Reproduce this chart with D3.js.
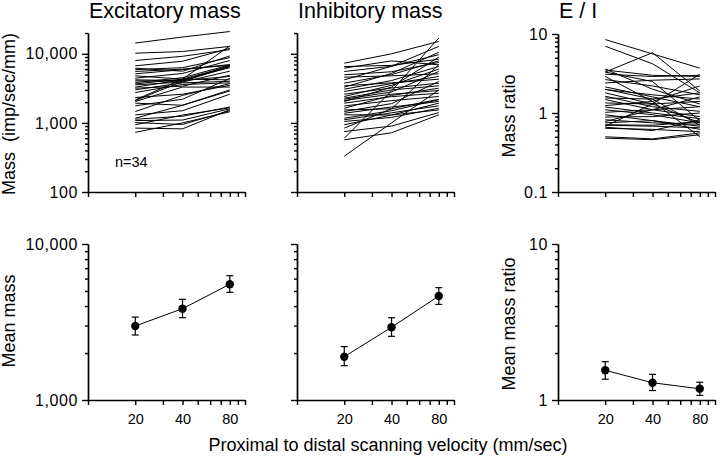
<!DOCTYPE html>
<html>
<head>
<meta charset="utf-8">
<script src="https://cdn.jsdelivr.net/npm/d3@7"></script>
<style>
  html, body { margin: 0; padding: 0; background: #fff; }
  svg { display: block; font-family: "Liberation Sans", Arial, Helvetica, sans-serif; }
  .ax path, .ax line { stroke: #000; stroke-width: 1.4; }
  .ax text { fill: #000; }
</style>
</head>
<body>
<svg id="chart" width="720" height="459"></svg>
<script>
// ---------------- DATA ----------------
const velocities = [20, 40, 80];
const xTickLabels = ["20", "40", "80"];

const titles = ["Excitatory mass", "Inhibitory mass", "E / I"];
const massTickValues = [100, 1000, 10000];
const massTickLabels = ["100", "1,000", "10,000"];
const ratioTickValues = [0.1, 1, 10];
const ratioTickLabels = ["0.1", "1", "10"];
const meanMassTickValues = [1000, 10000];
const meanMassTickLabels = ["1,000", "10,000"];
const meanRatioTickValues = [1, 10];
const meanRatioTickLabels = ["1", "10"];

// individual cells: values at 20, 40, 80 mm/sec (n = 34)
const excitatory = [
  [14300, 17500, 21000], [10200, 10800, 12800], [8000, 9200, 11500], [6700, 7800, 12000],
  [6200, 5600, 9300], [5900, 6300, 8800], [5550, 6000, 6800], [5130, 5900, 7000],
  [4800, 4300, 6600], [4440, 5200, 8000], [4200, 4100, 4700], [4060, 4000, 6500],
  [3840, 4500, 6900], [3670, 4300, 4200], [3550, 3900, 5600], [3290, 4200, 6300],
  [3180, 3400, 4900], [3010, 3800, 4000], [2750, 3600, 3800], [2150, 4300, 13000],
  [2330, 2600, 3500], [2100, 4000, 6800], [2040, 3300, 3300], [1930, 1800, 2900],
  [1770, 2200, 4400], [1460, 2500, 3700], [1310, 1500, 2600], [1170, 1800, 3000],
  [1130, 1250, 1700], [1080, 1100, 1600], [1010, 950, 1500], [940, 1300, 1650],
  [840, 820, 1550], [730, 1000, 1450]
];
const inhibitory = [
  [7320, 10000, 15100], [6550, 6800, 8370], [6200, 7900, 6930], [5550, 6600, 12800],
  [4960, 5500, 7490], [4590, 4800, 5130], [4200, 6600, 9700], [3760, 5000, 7900],
  [3440, 3800, 4290], [3290, 5200, 10500], [3080, 4100, 6550], [2850, 3700, 4690],
  [2600, 3200, 3760], [2410, 3500, 6000], [2280, 3000, 3440], [2200, 2800, 5550],
  [2110, 2600, 2940], [2040, 3300, 8950], [1930, 2400, 2690], [1760, 2100, 2410],
  [1630, 2500, 3180], [1540, 1600, 2200], [1460, 1900, 3970], [1380, 1700, 2040],
  [1310, 1300, 1930], [1170, 1500, 2160], [1110, 1400, 1770], [1050, 1200, 1630],
  [940, 1300, 1540], [840, 1600, 6930], [750, 900, 1410], [600, 2900, 16900],
  [570, 720, 1310], [330, 1000, 3000]
];
const ratio = [
  [8.5, 5.6, 3.7], [7.0, 4.2, 1.8], [3.3, 5.8, 1.9], [3.5, 3.0, 2.9],
  [3.3, 2.5, 0.8], [3.1, 2.9, 3.0], [2.9, 1.4, 0.5], [2.65, 2.2, 1.7],
  [2.4, 2.6, 2.7], [2.14, 1.6, 1.2], [1.98, 1.7, 1.5], [1.8, 1.3, 0.75],
  [1.63, 1.2, 1.05], [1.55, 1.5, 1.8], [1.48, 1.1, 0.9], [1.34, 1.3, 1.4],
  [1.24, 1.4, 2.2], [1.19, 1.0, 0.85], [1.10, 0.95, 0.75], [1.02, 1.1, 1.2],
  [0.95, 0.8, 0.68], [0.89, 0.9, 1.0], [0.82, 0.75, 0.72], [0.78, 1.1, 1.6],
  [0.75, 0.8, 0.62], [0.71, 0.7, 0.78], [0.68, 1.3, 3.1], [0.64, 0.62, 0.58],
  [0.7, 0.68, 0.65], [0.66, 0.6, 0.82], [0.50, 0.47, 0.56], [0.48, 0.46, 0.53],
  [3.6, 2.0, 1.3], [2.0, 1.5, 0.7]
];

// means with error bars
const meanExc = [2980, 3850, 5520];
const excLow  = [2610, 3370, 4900];
const excHigh = [3400, 4420, 6260];
const meanInh = [1895, 2925, 4640];
const inhLow  = [1660, 2560, 4100];
const inhHigh = [2200, 3370, 5250];
const meanRatio = [1.55, 1.29, 1.18];
const ratioLow  = [1.36, 1.15, 1.07];
const ratioHigh = [1.76, 1.46, 1.30];

// ---------------- DRAW ----------------
const svg = d3.select("#chart");
svg.append("rect").attr("width", 720).attr("height", 459).attr("fill", "#fff");

const colX = [88, 297, 558];
const xWidth = 157;

function drawAxes(g, x, y, majors, labels, showYLabels, showXLabels) {
  const lab = new Map(majors.map((v, i) => [v, labels[i]]));
  const yr = y.range();
  const x0 = x.range()[0];
  // minor y ticks
  g.append("g").attr("class", "ax").attr("transform", `translate(${x0},0)`)
    .call(d3.axisLeft(y).tickValues(y.ticks().filter(v => !majors.includes(v)))
      .tickSize(3).tickSizeOuter(0).tickFormat(""));
  // major y ticks
  const ya = g.append("g").attr("class", "ax").attr("transform", `translate(${x0},0)`)
    .call(d3.axisLeft(y).tickValues(majors).tickSize(6).tickSizeOuter(0)
      .tickPadding(4).tickFormat(d => showYLabels ? lab.get(d) : ""));
  ya.selectAll("text").attr("font-size", 16).attr("letter-spacing", "0.6px")
    .attr("font-family", "Liberation Sans, Arial, sans-serif");
  // x axis
  const xa = g.append("g").attr("class", "ax").attr("transform", `translate(0,${yr[0]})`)
    .call(d3.axisBottom(x).tickValues(x.ticks()).tickSize(5).tickSizeOuter(0)
      .tickPadding(9)
      .tickFormat(d => (showXLabels && velocities.includes(d)) ? xTickLabels[velocities.indexOf(d)] : ""));
  xa.selectAll("text").attr("font-size", 14.5)
    .attr("font-family", "Liberation Sans, Arial, sans-serif");
}

const topSets = [excitatory, inhibitory, ratio];
const topDomains = [[100, 20000], [100, 20000], [0.1, 10]];
const topRanges = [[192, 33], [192, 33], [192, 34]];
const topMajors = [massTickValues, massTickValues, ratioTickValues];
const topLabels = [massTickLabels, massTickLabels, ratioTickLabels];

topSets.forEach((set, i) => {
  const g = svg.append("g");
  const x = d3.scaleLog().domain([10, 100]).range([colX[i], colX[i] + xWidth]);
  const y = d3.scaleLog().domain(topDomains[i]).range(topRanges[i]);
  const line = d3.line().x((d, j) => x(velocities[j])).y(d => y(d));
  g.selectAll("path.cell").data(set).enter().append("path")
    .attr("class", "cell").attr("d", line)
    .attr("fill", "none").attr("stroke", "#000").attr("stroke-width", 1);
  drawAxes(g, x, y, topMajors[i], topLabels[i], i !== 1, false);
  svg.append("text").attr("x", colX[i] + 1).attr("y", 18)
    .attr("font-size", 21.5).text(titles[i]);
});

const botMeans = [meanExc, meanInh, meanRatio];
const botLow = [excLow, inhLow, ratioLow];
const botHigh = [excHigh, inhHigh, ratioHigh];
const botDomains = [[1000, 10000], [1000, 10000], [1, 10]];
const botMajors = [meanMassTickValues, meanMassTickValues, meanRatioTickValues];
const botLabels = [meanMassTickLabels, meanMassTickLabels, meanRatioTickLabels];

botMeans.forEach((m, i) => {
  const g = svg.append("g");
  const x = d3.scaleLog().domain([10, 100]).range([colX[i], colX[i] + xWidth]);
  const y = d3.scaleLog().domain(botDomains[i]).range([400, 244]);
  drawAxes(g, x, y, botMajors[i], botLabels[i], i !== 1, true);
  const line = d3.line().x((d, j) => x(velocities[j])).y(d => y(d));
  g.append("path").attr("d", line(m)).attr("fill", "none")
    .attr("stroke", "#000").attr("stroke-width", 1);
  const eb = g.selectAll("g.eb").data(m).enter().append("g").attr("class", "eb");
  eb.append("line").attr("x1", (d, j) => x(velocities[j])).attr("x2", (d, j) => x(velocities[j]))
    .attr("y1", (d, j) => y(botLow[i][j])).attr("y2", (d, j) => y(botHigh[i][j]))
    .attr("stroke", "#000").attr("stroke-width", 1.2);
  ["low", "high"].forEach(k => {
    const arr = k === "low" ? botLow[i] : botHigh[i];
    eb.append("line").attr("x1", (d, j) => x(velocities[j]) - 3.5).attr("x2", (d, j) => x(velocities[j]) + 3.5)
      .attr("y1", (d, j) => y(arr[j])).attr("y2", (d, j) => y(arr[j]))
      .attr("stroke", "#000").attr("stroke-width", 1.2);
  });
  eb.append("circle").attr("cx", (d, j) => x(velocities[j])).attr("cy", d => y(d))
    .attr("r", 4.2).attr("fill", "#000");
});

// axis titles
function vLabel(txt, x, y) {
  svg.append("text").attr("transform", `translate(${x},${y}) rotate(-90)`)
    .attr("text-anchor", "middle").attr("font-size", 18)
    .style("white-space", "pre").text(txt);
}
vLabel("Mass  (imp/sec/mm)", 15, 114);
vLabel("Mean mass", 15, 321);
vLabel("Mass ratio", 515, 116);
vLabel("Mean mass ratio", 515, 324);

svg.append("text").attr("x", 115).attr("y", 167).attr("font-size", 14.5).text("n=34");
svg.append("text").attr("x", 388).attr("y", 451).attr("text-anchor", "middle")
  .attr("font-size", 18).text("Proximal to distal scanning velocity (mm/sec)");
</script>
</body>
</html>
